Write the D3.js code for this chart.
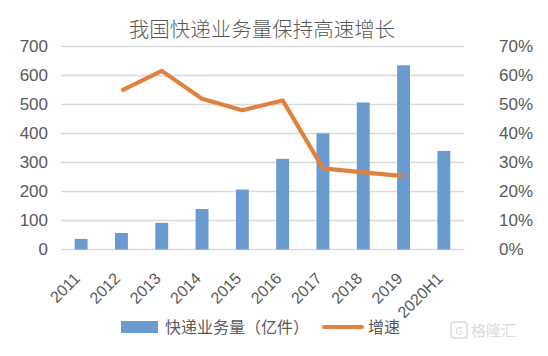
<!DOCTYPE html>
<html><head><meta charset="utf-8">
<script src="https://cdn.jsdelivr.net/npm/d3@7"></script>
<style>
body{margin:0;background:#fff;}
text{font-family:"Liberation Sans","Noto Sans CJK SC",sans-serif;}
.cjk{font-family:"Noto Sans CJK SC",sans-serif;}
</style></head><body>
<svg id="chart" width="548" height="356"></svg>
<script>
const categories = ["2011","2012","2013","2014","2015","2016","2017","2018","2019","2020H1"];
const volume = [36.7, 56.9, 91.9, 139.6, 206.7, 312.8, 400.6, 507.1, 635.2, 340.0];
const growth = [null, 54.8, 61.6, 52.0, 48.0, 51.4, 28.0, 26.6, 25.3, null];
const leftTicks = [0,100,200,300,400,500,600,700];
const rightTicks = [0,10,20,30,40,50,60,70];
const title = "我国快递业务量保持高速增长";
const seriesNames = ["快递业务量（亿件）","增速"];

const svg = d3.select("#chart");
const m = {left:61, right:84, top:46.5, bottom:106.5};
const W = 548, H = 356;
const x = d3.scaleBand().domain(categories).range([m.left, W-m.right]).paddingInner(0.68).paddingOuter(0.34);
const yL = d3.scaleLinear().domain([0,700]).range([H-m.bottom, m.top]);
const yR = d3.scaleLinear().domain([0,70]).range([H-m.bottom, m.top]);
const grey = "#595959";

// gridlines
svg.append("g").selectAll("line").data(leftTicks).join("line")
  .attr("x1", m.left).attr("x2", W-m.right)
  .attr("y1", d=>yL(d)).attr("y2", d=>yL(d))
  .attr("stroke","#d9d9d9").attr("stroke-width",1.3);

// left axis
const ga = svg.append("g").attr("transform",`translate(${m.left},0)`)
  .call(d3.axisLeft(yL).tickValues(leftTicks).tickSize(0).tickPadding(13));
ga.select(".domain").remove();
ga.selectAll("text").attr("fill",grey).style("font-size","17px");

// right axis
const gr = svg.append("g").attr("transform",`translate(${W-m.right},0)`)
  .call(d3.axisRight(yR).tickValues(rightTicks).tickSize(0).tickPadding(35).tickFormat(d=>d+"%"));
gr.select(".domain").remove();
gr.selectAll("text").attr("fill",grey).style("font-size","17px");

// bars
svg.append("g").selectAll("rect").data(categories).join("rect")
  .attr("x", d=>x(d)).attr("width", x.bandwidth())
  .attr("y", (d,i)=>yL(volume[i])).attr("height",(d,i)=>yL(0)-yL(volume[i]))
  .attr("fill","#699bcf");

// line
const line = d3.line().defined(d=>d.v!=null)
  .x(d=>x(d.c)+x.bandwidth()/2).y(d=>yR(d.v));
svg.append("path").datum(categories.map((c,i)=>({c, v:growth[i]})))
  .attr("d", line).attr("fill","none").attr("stroke","#e0823e")
  .attr("stroke-width",4.2).attr("stroke-linejoin","round");

// x labels
svg.append("g").selectAll("text").data(categories).join("text")
  .attr("transform", d=>`translate(${x(d)+x.bandwidth()/2-4},${H-m.bottom+26}) rotate(-45)`)
  .attr("text-anchor","end").attr("dy","0.35em")
  .attr("fill",grey).style("font-size","16px").text(d=>d);

// title
svg.append("text").attr("class","cjk").attr("x", 262).attr("y", 37)
  .attr("text-anchor","middle").attr("fill",grey).style("font-size","20.5px").style("font-weight","300").text(title);

// legend
const lg = svg.append("g");
lg.append("rect").attr("x",121).attr("y",321).attr("width",37).attr("height",12).attr("fill","#699bcf");
lg.append("text").attr("class","cjk").attr("x",165).attr("y",333).attr("fill",grey).style("font-size","16px").text(seriesNames[0]);
lg.append("line").attr("x1",324).attr("x2",362).attr("y1",327).attr("y2",327)
  .attr("stroke","#e0823e").attr("stroke-width",4).attr("stroke-linecap","round");
lg.append("text").attr("class","cjk").attr("x",368).attr("y",333).attr("fill",grey).style("font-size","16px").text(seriesNames[1]);

// watermark
const wm = svg.append("g").attr("opacity",0.3);
wm.append("rect").attr("x",451).attr("y",322).attr("width",16).attr("height",16).attr("rx",3)
  .attr("fill","none").attr("stroke","#888").attr("stroke-width",1.5);
wm.append("text").attr("class","cjk").attr("x",459).attr("y",334.5).attr("text-anchor","middle")
  .attr("fill","#888").style("font-size","11px").text("G");
wm.append("text").attr("class","cjk").attr("x",471).attr("y",336).attr("fill","#888").style("font-size","15px").text("格隆汇");
</script>
</body></html>
